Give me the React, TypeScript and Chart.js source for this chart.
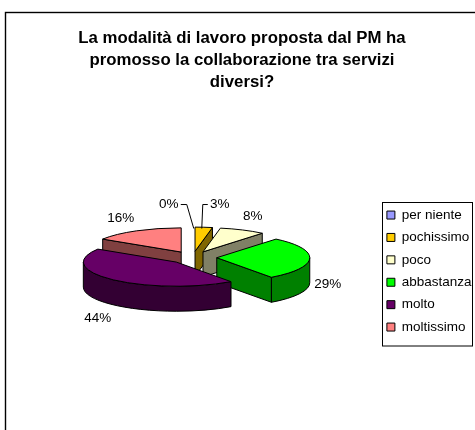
import React, { useEffect, useRef } from "react";
import { Chart, registerables } from "chart.js";

Chart.register(...registerables);

const titleLines = [
  "La modalità di lavoro proposta dal PM ha",
  "promosso la collaborazione tra servizi",
  "diversi?",
];
const categories = ["per niente", "pochissimo", "poco", "abbastanza", "molto", "moltissimo"];
const percentages = [0, 3, 8, 29, 44, 16];
const topColors = ["#9999FF", "#FFCC00", "#FFFFCC", "#00FF00", "#660066", "#FF8080"];
const wallColors = ["#4D4D80", "#806600", "#808066", "#008000", "#330033", "#804040"];

// Tilted-pie geometry
const RADIUS = 93;
const SQUASH = 0.26;
const DEPTH = 25;
const EXPLODE = 24;
const FONT = "'Liberation Sans', Arial, sans-serif";

// Label anchors measured from the pie centre
const labelShift: [number, number][] = [
  [-24, -53],
  [27, -53],
  [60, -41],
  [135, 27],
  [-95, 61],
  [-72, -39],
];

const pieCentre = (chart: any) => ({
  x: (chart.chartArea.left + chart.chartArea.right) / 2,
  y: (chart.chartArea.top + chart.chartArea.bottom) / 2,
});

// A slice's own tip on screen, after the squash around the pie centre
const screenTip = (chart: any, a: any) => {
  const c = pieCentre(chart);
  return { x: a.x, y: c.y + (a.y - c.y) * SQUASH };
};

const pieCanvasPlugin = {
  id: "tiltedPie",
  beforeDraw(chart: any) {
    const { ctx } = chart;
    ctx.save();
    ctx.fillStyle = "#fff";
    ctx.fillRect(0, 0, chart.width, chart.height);
    ctx.strokeStyle = "#000";
    ctx.lineWidth = 1.4;
    ctx.strokeRect(5.5, 12.5, 500, 500);
    ctx.lineWidth = 1;
    ctx.strokeRect(382.5, 202.5, 90, 143.5);
    ctx.restore();
  },
  afterLayout(chart: any) {
    chart.legend.left = 378;
    chart.legend.right = 475;
    chart.legend.top = 199.4;
    chart.legend.bottom = 430;
    chart.titleBlock.left -= 2.5;
    chart.titleBlock.right -= 2.5;
  },
  // Pull every slice out along its mid-angle
  afterDatasetsUpdate(chart: any) {
    chart.getDatasetMeta(0).data.forEach((a: any) => {
      const mid = (a.startAngle + a.endAngle) / 2;
      a.x += Math.cos(mid) * EXPLODE;
      a.y += Math.sin(mid) * EXPLODE;
    });
  },
  beforeDatasetDraw(chart: any) {
    const { ctx } = chart;
    const arcs = chart.getDatasetMeta(0).data;
    const order = [5, 1, 2, 3, 4];
    for (const i of order) {
      const a = arcs[i];
      const start = a.startAngle;
      const end = a.endAngle;
      const { x: px, y: py } = screenTip(chart, a);
      const wall = (ang: number) => {
        const x = px + Math.cos(ang) * RADIUS;
        const y = py + Math.sin(ang) * RADIUS * SQUASH;
        ctx.beginPath();
        ctx.moveTo(px, py);
        ctx.lineTo(x, y);
        ctx.lineTo(x, y + DEPTH);
        ctx.lineTo(px, py + DEPTH);
        ctx.closePath();
        ctx.fillStyle = wallColors[i];
        ctx.fill();
        ctx.stroke();
      };
      ctx.save();
      ctx.strokeStyle = "#000";
      ctx.lineWidth = 1;
      // Cut faces turned toward the viewer: a leading edge faces us on the left half,
      // a trailing edge on the right half
      if (Math.cos(start) < 0) wall(start);
      if (Math.cos(end) > 0) wall(end);
      // Outer rim on the near half
      const a0 = Math.max(start, 0);
      const a1 = Math.min(end, Math.PI);
      if (a1 > a0) {
        ctx.beginPath();
        ctx.ellipse(px, py, RADIUS, RADIUS * SQUASH, 0, a0, a1);
        ctx.ellipse(px, py + DEPTH, RADIUS, RADIUS * SQUASH, 0, a1, a0, true);
        ctx.closePath();
        ctx.fillStyle = wallColors[i];
        ctx.fill();
        ctx.stroke();
      }
      ctx.restore();
    }
    // Flatten the slice tops around the pie centre
    const c = pieCentre(chart);
    ctx.save();
    ctx.translate(c.x, c.y);
    ctx.scale(1, SQUASH);
    ctx.translate(-c.x, -c.y);
  },
  afterDatasetDraw(chart: any) {
    const { ctx } = chart;
    ctx.restore();
    const arcs = chart.getDatasetMeta(0).data;
    // Outlines are stroked unsquashed so their width stays even
    arcs.forEach((a: any, i: number) => {
      if (percentages[i] === 0) return;
      const { x: px, y: py } = screenTip(chart, a);
      ctx.save();
      ctx.strokeStyle = "#000";
      ctx.lineWidth = 1;
      ctx.beginPath();
      ctx.moveTo(px, py);
      ctx.ellipse(px, py, RADIUS, RADIUS * SQUASH, 0, a.startAngle, a.endAngle);
      ctx.closePath();
      ctx.stroke();
      ctx.restore();
    });
    // Percentage labels and the two leader lines
    const c = pieCentre(chart);
    ctx.save();
    ctx.fillStyle = "#000";
    ctx.font = `13.5px ${FONT}`;
    ctx.textAlign = "center";
    ctx.textBaseline = "middle";
    percentages.forEach((p, i) => {
      ctx.fillText(`${p}%`, c.x + labelShift[i][0], c.y + labelShift[i][1]);
    });
    ctx.strokeStyle = "#000";
    ctx.lineWidth = 1;
    ctx.beginPath();
    ctx.moveTo(c.x - 12, c.y - 53);
    ctx.lineTo(c.x - 6, c.y - 53);
    ctx.lineTo(c.x + 1, c.y - 29);
    ctx.moveTo(c.x + 15, c.y - 53);
    ctx.lineTo(c.x + 10, c.y - 53);
    ctx.lineTo(c.x + 9, c.y - 29);
    ctx.stroke();
    ctx.restore();
  },
};

export default function App() {
  const ref = useRef<HTMLCanvasElement>(null);
  useEffect(() => {
    const chart = new Chart(ref.current!, {
      type: "pie",
      data: {
        labels: categories,
        datasets: [
          {
            data: percentages,
            backgroundColor: topColors,
            borderWidth: 0,
          },
        ],
      },
      plugins: [pieCanvasPlugin],
      options: {
        animation: false,
        responsive: false,
        radius: RADIUS,
        layout: { padding: { left: 14, right: 0, top: 0, bottom: 15 } },
        plugins: {
          tooltip: { enabled: false },
          title: {
            display: true,
            text: titleLines,
            color: "#000",
            font: { family: FONT, size: 16.8, weight: "bold", lineHeight: 1.33 },
            padding: { top: 27, bottom: 6 },
          },
          legend: {
            position: "right",
            align: "start",
            labels: {
              color: "#000",
              font: { family: FONT, size: 13.5 },
              boxWidth: 8,
              boxHeight: 8,
              padding: 8.9,
              generateLabels: () =>
                categories.map((text, i) => ({
                  text,
                  index: i,
                  fillStyle: topColors[i],
                  strokeStyle: "#000",
                  lineWidth: 1,
                  hidden: false,
                })),
            },
          },
        },
      } as any,
    });
    return () => chart.destroy();
  }, []);
  return (
    <canvas
      ref={ref}
      width={475}
      height={430}
      style={{ position: "fixed", left: 0, top: 0, width: 475, height: 430 }}
    />
  );
}
